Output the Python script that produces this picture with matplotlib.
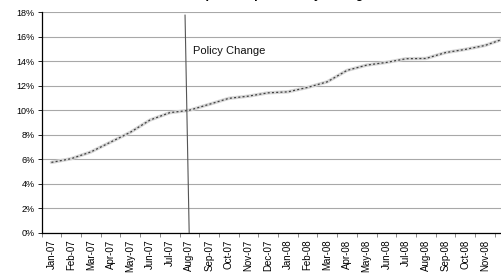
import matplotlib
matplotlib.use("Agg")
import matplotlib.pyplot as plt
import numpy as np
from matplotlib.ticker import FuncFormatter, FixedLocator

MONTHS = [
    "Jan-07", "Feb-07", "Mar-07", "Apr-07", "May-07", "Jun-07", "Jul-07", "Aug-07",
    "Sep-07", "Oct-07", "Nov-07", "Dec-07", "Jan-08", "Feb-08", "Mar-08", "Apr-08",
    "May-08", "Jun-08", "Jul-08", "Aug-08", "Sep-08", "Oct-08", "Nov-08", "Dec-08",
]
RATE = [
    5.75, 6.05, 6.6, 7.4, 8.2, 9.2, 9.8, 10.0,
    10.48, 10.97, 11.15, 11.42, 11.5, 11.86, 12.32, 13.25,
    13.68, 13.9, 14.2, 14.22, 14.7, 14.96, 15.28, 15.85,
]
POLICY_X = [6.78, 6.99]
POLICY_Y = [17.75, 0.0]
TITLE = "Rate pre and post Policy Change"

plt.rcParams["font.family"] = ["Liberation Sans", "DejaVu Sans"]

fig = plt.figure(figsize=(5.01, 2.75), dpi=100)
ax = fig.add_axes([0.083, 0.153, 0.944, 0.803])

x = np.arange(len(MONTHS))
ax.plot(x, RATE, color="#d6d6d6", lw=2.4, solid_capstyle="round", zorder=3)
ax.plot(x, RATE, color="#404040", lw=0.9, dashes=(1.6, 1.8), zorder=4)

ax.plot(POLICY_X, POLICY_Y, color="#555555", lw=0.8, zorder=5)
ax.text(7.17, 14.8, "Policy Change", fontsize=8, va="center", ha="left", color="#111111")

ax.set_xlim(-0.5, len(MONTHS) - 0.5)
ax.set_ylim(0, 18)
ax.set_yticks(np.arange(0, 19, 2))
ax.yaxis.set_major_formatter(FuncFormatter(lambda v, _p: f"{v:.0f}%"))
ax.grid(axis="y", color="#a8a8a8", lw=0.8)
ax.set_axisbelow(True)

# the last month falls past the cropped right edge, so its label is left off
ax.set_xticks(x[:-1])
ax.set_xticklabels(MONTHS[:-1], rotation=90, fontsize=7)
ax.xaxis.set_minor_locator(FixedLocator(np.arange(-0.5, len(MONTHS), 1)))
ax.tick_params(axis="x", which="major", length=0, pad=5)
ax.tick_params(axis="x", which="minor", length=3, width=0.6, color="#777777")
ax.tick_params(axis="y", labelsize=6.5, length=3, width=0.6, pad=2)

for side in ["top", "right"]:
    ax.spines[side].set_visible(False)
ax.spines["left"].set_linewidth(0.9)
ax.spines["bottom"].set_linewidth(0.9)

# title sits above the visible frame; only its lowest pixels show, as in the source crop
fig.text(0.545, 1.008, TITLE, fontsize=9, fontweight="bold", ha="center", va="baseline")

fig.savefig("out.png", dpi=100)
